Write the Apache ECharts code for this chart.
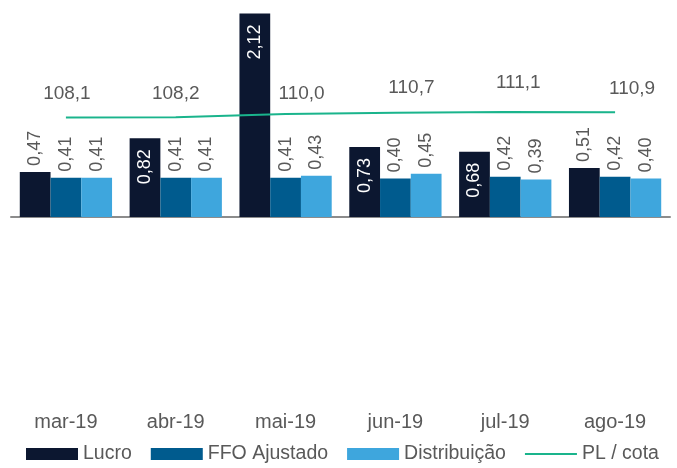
<!DOCTYPE html>
<html>
<head>
<meta charset="utf-8">
<script src="https://cdn.jsdelivr.net/npm/echarts@6/dist/echarts.min.js"></script>
<style>
  html, body { margin: 0; padding: 0; background: #fff; }
  #chart { width: 677px; height: 468px; }
</style>
</head>
<body>
<div id="chart"></div>
<script>
var months = ["mar-19", "abr-19", "mai-19", "jun-19", "jul-19", "ago-19"];
var lucro = [0.47, 0.82, 2.12, 0.73, 0.68, 0.51];
var ffo = [0.41, 0.41, 0.41, 0.40, 0.42, 0.42];
var distribuicao = [0.41, 0.41, 0.43, 0.45, 0.39, 0.40];
var plCota = [108.1, 108.2, 110.0, 110.7, 111.1, 110.9];

// hand-moved labels of the PL line in the original, [dx, dy] px
var plLabelShift = [[1, 0], [0, 0], [16, 3], [16, -1], [13, -6], [17, 0]];

var FONT = "'Liberation Sans', Arial, sans-serif";
var GREY = "#595959";

function virgula(v, d) {
  return v.toFixed(d).replace(".", ",");
}

var fora = {
  show: true, position: "top", rotate: 90, align: "left", verticalAlign: "middle",
  distance: 6, color: GREY, fontSize: 18, fontFamily: FONT,
  formatter: function (p) { return virgula(p.value, 2); }
};
var dentro = {
  show: true, position: "insideTop", rotate: 90, align: "right", verticalAlign: "middle",
  distance: 11, color: "#fff", fontSize: 18, fontFamily: FONT,
  formatter: function (p) { return virgula(p.value, 2); }
};

var myChart = echarts.init(document.getElementById("chart"));
var option = {
  animation: false,
  grid: { left: 11, right: 7, top: 1, height: 408 },
  legend: {
    left: 26,
    top: 444,
    padding: 0,
    itemWidth: 52,
    itemHeight: 12,
    itemGap: 19,
    textStyle: { color: GREY, fontSize: 19.5, fontFamily: FONT },
    data: [
      { name: "Lucro", icon: "rect" },
      { name: "FFO Ajustado", icon: "rect" },
      { name: "Distribuição", icon: "rect" },
      { name: "PL / cota", icon: "path://M0 0H52V2H0Z" }
    ]
  },
  xAxis: [
    {
      type: "category",
      data: months,
      position: "top",
      axisLine: { onZero: true, lineStyle: { color: "#8c8c8c", width: 2 } },
      axisTick: { show: false },
      axisLabel: { show: false }
    },
    {
      type: "category",
      data: months,
      position: "bottom",
      axisLine: { show: false, onZero: false },
      axisTick: { show: false },
      axisLabel: { color: GREY, fontSize: 20, fontFamily: FONT, margin: 3 }
    }
  ],
  yAxis: [
    { type: "value", min: -2, max: 2.25, show: false, splitLine: { show: false } },
    { type: "value", min: -52, max: 172, show: false, splitLine: { show: false } }
  ],
  series: [
    {
      name: "Lucro",
      type: "bar",
      barGap: "0%",
      barCategoryGap: "16%",
      itemStyle: { color: "#0c1730" },
      data: lucro.map(function (v) {
        return { value: v, label: v > 0.6 ? dentro : fora };
      })
    },
    {
      name: "FFO Ajustado",
      type: "bar",
      barGap: "0%",
      barCategoryGap: "16%",
      itemStyle: { color: "#005b8e" },
      label: fora,
      data: ffo
    },
    {
      name: "Distribuição",
      type: "bar",
      barGap: "0%",
      barCategoryGap: "16%",
      itemStyle: { color: "#3ea6dd" },
      label: fora,
      data: distribuicao
    },
    {
      name: "PL / cota",
      type: "line",
      yAxisIndex: 1,
      symbol: "circle",
      symbolSize: 0,
      lineStyle: { color: "#1ab48c", width: 2 },
      itemStyle: { color: "#1ab48c" },
      label: {
        show: true, position: "top", distance: 14, color: GREY, fontSize: 19, fontFamily: FONT,
        formatter: function (p) { return virgula(p.value, 1); }
      },
      data: plCota.map(function (v, i) {
        return { value: v, label: { offset: plLabelShift[i] } };
      })
    }
  ]
};
myChart.setOption(option);
</script>
</body>
</html>
